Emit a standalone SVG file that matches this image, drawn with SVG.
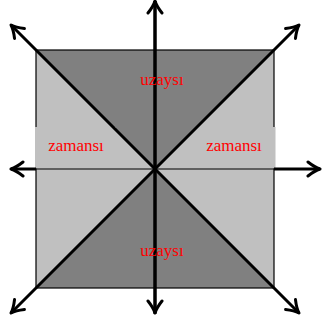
<svg xmlns="http://www.w3.org/2000/svg" width="322" height="322" viewBox="0 0 322 322">
<style>
.dark{fill:#808080;stroke:none}
.light{fill:#c0c0c0;stroke:none}
.lbl{font-family:"Liberation Serif","Times New Roman",serif;font-size:17px;fill:#ff0000;text-anchor:middle}
.axis{stroke:#000;stroke-width:3;fill:none}
</style>
<defs>
<marker id="ah" markerUnits="userSpaceOnUse" orient="auto" viewBox="-14 -9 16 18" markerWidth="16" markerHeight="18" refX="0" refY="0">
<path d="M-12,-7 Q-5,-1.5 0,0 Q-5,1.5 -12,7" fill="none" stroke="#000" stroke-width="3" stroke-linecap="round" stroke-linejoin="round"/>
</marker>
</defs>
<g id="square">
<rect x="36" y="50" width="238" height="238" class="light"/>
<polygon id="top-region" class="dark" points="36,50 274,50 155,169"/>
<polygon id="bottom-region" class="dark" points="36,288 274,288 155,169"/>
<rect x="36" y="50" width="238" height="238" fill="none" stroke="#000" stroke-width="1.2"/>
</g>
<g id="label-bg">
<rect x="35" y="127" width="81" height="41.5" class="light"/>
<rect x="195" y="127" width="80.5" height="41.5" class="light"/>
</g>
<g id="connectors">
<line x1="36" y1="169" x2="116" y2="169" stroke="#000" stroke-width="1"/>
<line x1="116" y1="169" x2="195" y2="169" stroke="#404040" stroke-width="1.5"/>
<line x1="195" y1="169" x2="274" y2="169" stroke="#000" stroke-width="1"/>
<line class="axis" x1="36" y1="169" x2="11" y2="169" marker-end="url(#ah)"/>
<line class="axis" x1="274" y1="169" x2="320" y2="169" marker-end="url(#ah)"/>
<line class="axis" x1="155" y1="314" x2="155" y2="1" marker-end="url(#ah)"/>
<line class="axis" x1="155" y1="1" x2="155" y2="313" marker-end="url(#ah)"/>
<line class="axis" x1="155" y1="169" x2="11" y2="25" marker-end="url(#ah)"/>
<line class="axis" x1="155" y1="169" x2="299" y2="25" marker-end="url(#ah)"/>
<line class="axis" x1="155" y1="169" x2="11" y2="313" marker-end="url(#ah)"/>
<line class="axis" x1="155" y1="169" x2="299" y2="313" marker-end="url(#ah)"/>
</g>
<g id="label-top"><text class="lbl" x="162" y="85">uzaysı</text></g>
<g id="label-bottom"><text class="lbl" x="162" y="256">uzaysı</text></g>
<g id="label-left"><text class="lbl" x="76" y="151">zamansı</text></g>
<g id="label-right"><text class="lbl" x="234" y="151">zamansı</text></g>
</svg>
